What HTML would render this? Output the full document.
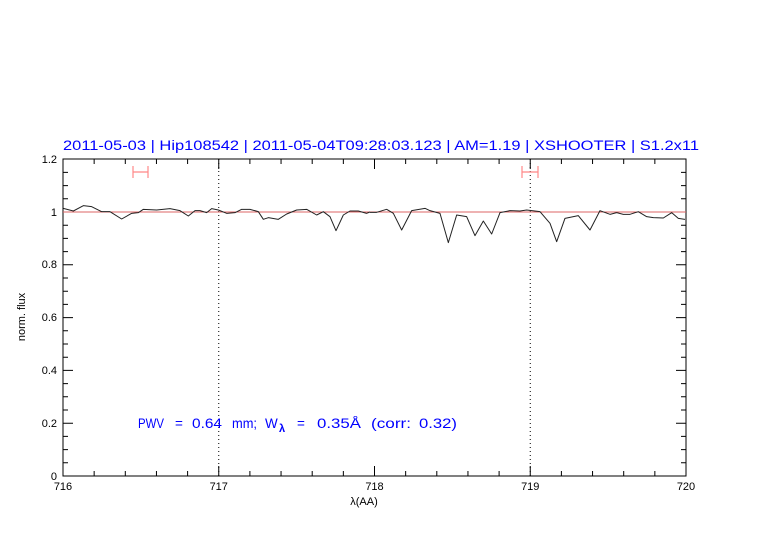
<!DOCTYPE html>
<html><head><meta charset="utf-8"><style>body{margin:0;background:#fff}svg{display:block}</style></head><body>
<svg width="782" height="542" viewBox="0 0 782 542" xmlns="http://www.w3.org/2000/svg" font-family="Liberation Sans, sans-serif">
<rect width="782" height="542" fill="#fff"/>
<text x="63" y="150" fill="#00f" font-size="13.5" textLength="636" lengthAdjust="spacingAndGlyphs">2011-05-03 | Hip108542 | 2011-05-04T09:28:03.123 | AM=1.19 | XSHOOTER | S1.2x11</text>
<rect x="63" y="159" width="623" height="317" fill="none" stroke="#000" stroke-width="1"/>
<g stroke="#000" stroke-width="1">
<path d="M94.15,476v-5M125.3,476v-5M156.45,476v-5M187.6,476v-5M218.75,476v-10M249.9,476v-5M281.05,476v-5M312.2,476v-5M343.35,476v-5M374.5,476v-10M405.65,476v-5M436.8,476v-5M467.95,476v-5M499.1,476v-5M530.25,476v-10M561.4,476v-5M592.55,476v-5M623.7,476v-5M654.85,476v-5
M94.15,159v5M125.3,159v5M156.45,159v5M187.6,159v5M218.75,159v10M249.9,159v5M281.05,159v5M312.2,159v5M343.35,159v5M374.5,159v10M405.65,159v5M436.8,159v5M467.95,159v5M499.1,159v5M530.25,159v10M561.4,159v5M592.55,159v5M623.7,159v5M654.85,159v5"/>
<path d="M63,462.8h5M63,449.6h5M63,436.4h5M63,423.2h10M63,410h5M63,396.8h5M63,383.6h5M63,370.4h10M63,357.2h5M63,344h5M63,330.8h5M63,317.6h10M63,304.4h5M63,291.2h5M63,278h5M63,264.8h10M63,251.6h5M63,238.4h5M63,225.2h5M63,212h10M63,198.8h5M63,185.6h5M63,172.4h5
M686,462.8h-5M686,449.6h-5M686,436.4h-5M686,423.2h-10M686,410h-5M686,396.8h-5M686,383.6h-5M686,370.4h-10M686,357.2h-5M686,344h-5M686,330.8h-5M686,317.6h-10M686,304.4h-5M686,291.2h-5M686,278h-5M686,264.8h-10M686,251.6h-5M686,238.4h-5M686,225.2h-5M686,212h-10M686,198.8h-5M686,185.6h-5M686,172.4h-5"/>
</g>
<g stroke="#000" stroke-width="1" stroke-dasharray="1,3">
<path d="M218.75,159V476M530.25,159V476"/>
</g>
<line x1="63" y1="212" x2="686" y2="212" stroke="#d66" stroke-width="1"/>
<g stroke="#f88" stroke-width="1.2">
<path d="M133,172h15M133,166v12M148,166v12"/>
<path d="M522,172h16M522,166v12M538,166v12"/>
</g>
<g transform="translate(60,150) scale(0.33333)" fill="none" stroke="#222" stroke-width="3" stroke-linejoin="round">
<polyline points="10,175 40,183 70,167 95,170 125,185 150,185 185,207 215,190 235,188 250,178 290,180 330,176 360,182 385,198 405,182 420,182 440,188 455,176 475,180 500,190 525,188 545,178 570,178 595,185 610,208 625,203 655,208 680,192 710,180 740,178 770,195 790,185 810,200 828,242 850,195 870,183 895,183 920,190 930,186"/>
</g>
<g transform="translate(370,150) scale(0.33333)" fill="none" stroke="#222" stroke-width="3" stroke-linejoin="round">
<polyline points="0,187 20,187 50,178 70,190 95,240 125,182 165,175 180,182 210,190 235,278 260,195 290,200 315,257 340,213 365,252 390,188 420,182 450,183 470,180 510,185 540,220 560,275 585,205 625,197 660,240 690,182 720,193 740,188 760,193 780,193 805,185 830,200 850,203 880,204 905,188 925,205 945,208"/>
</g>
<g font-size="11" text-anchor="middle" fill="#000">
<text x="63" y="490">716</text><text x="218.75" y="490">717</text><text x="374.5" y="490">718</text><text x="530.25" y="490">719</text><text x="686" y="490">720</text>
<text x="364" y="505">λ(AA)</text>
</g>
<g font-size="11" text-anchor="end" fill="#000">
<text x="57" y="480">0</text><text x="57" y="427">0.2</text><text x="57" y="374">0.4</text><text x="57" y="321">0.6</text><text x="57" y="268">0.8</text><text x="57" y="216">1</text><text x="57" y="163">1.2</text>
</g>
<text transform="translate(25,317) rotate(-90)" font-size="11" text-anchor="middle">norm. flux</text>
<g fill="#00f" font-size="13.5">
<text x="138" y="428" textLength="26" lengthAdjust="spacingAndGlyphs">PWV</text>
<text x="175" y="428">=</text>
<text x="192" y="428" textLength="30" lengthAdjust="spacingAndGlyphs">0.64</text>
<text x="232" y="428" textLength="25" lengthAdjust="spacingAndGlyphs">mm;</text>
<text x="265" y="428">W</text>
<text x="279" y="432" font-size="11" font-weight="bold">λ</text>
<text x="297" y="428">=</text>
<text x="317" y="428" textLength="44" lengthAdjust="spacingAndGlyphs">0.35Å</text>
<text x="371" y="428" textLength="40" lengthAdjust="spacingAndGlyphs">(corr:</text>
<text x="419" y="428" textLength="38" lengthAdjust="spacingAndGlyphs">0.32)</text>
</g>
</svg>
</body></html>
